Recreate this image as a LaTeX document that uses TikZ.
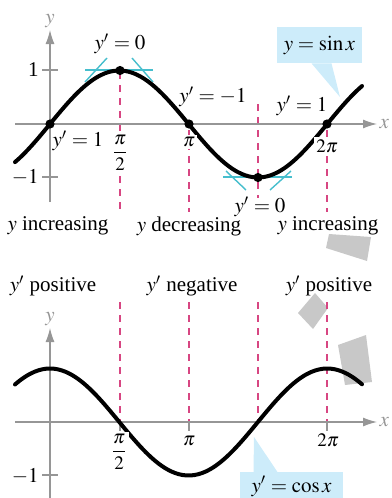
\documentclass[tikz,border=0pt]{standalone}
\usepackage{mathptmx}
\usepackage[no-math]{fontspec}
\setmainfont{Liberation Serif}
\usetikzlibrary{positioning, calc, arrows.meta}
\definecolor{guide}{RGB}{215,70,130}
\definecolor{tangent}{RGB}{70,190,205}
\definecolor{callout}{RGB}{205,236,250}
\definecolor{axisgray}{RGB}{150,150,150}
\definecolor{blot}{RGB}{200,200,200}
\tikzset{
  axis/.style={axisgray, line width=0.6pt, -{Latex[length=7pt,width=4.5pt]}},
  curve/.style={line width=2pt, line cap=round},
  guideline/.style={guide, line width=0.7pt, dash pattern=on 3.5pt off 3pt},
  tanline/.style={tangent, line width=0.7pt},
  tick/.style={axisgray, line width=0.6pt},
  dot/.style={circle, fill=black, inner sep=0pt, minimum size=4.6pt},
  lbl/.style={font=\fontsize{10.5}{12}\selectfont, inner sep=1pt},
  ticklbl/.style={font=\fontsize{9.5}{10}\selectfont, inner sep=1pt, fill=white},
  callbox/.style={fill=callout, inner sep=0pt, font=\fontsize{10.5}{12}\selectfont}
}

\begin{document}
\begin{tikzpicture}[x=0.5pt, y=-0.5pt]
  \useasboundingbox (0,0) rectangle (391,498);

  % grey blots
  \fill[blot] (329,234) -- (371,237) -- (367,261) -- (326,248) -- cycle;
  \fill[blot] (315,293) -- (328,308) -- (313,329) -- (298,313) -- cycle;
  \fill[blot] (338,345) -- (366,335) -- (372,382) -- (345,385) -- cycle;

  % Top: y = sin x
  \node[callbox, minimum width=42.5pt, minimum height=18pt] (sinbox) at (319.5,45) {$y = \sin x$};
  \coordinate (sintip) at (340,97);
  \fill[callout] ([xshift=-4pt]sinbox.south) -- (sintip) -- ([xshift=6pt]sinbox.south) -- cycle;

  \draw[guideline] (120,72) -- (120,212);
  \draw[guideline] (189,130) -- (189,212);
  \draw[guideline] (258,104) -- (258,198);
  \draw[guideline] (327,130) -- (327,212);

  \draw[axis] (15,124) -- (377,124) node[lbl, right] (xtop) {$x$};
  \draw[axis] (50,202) -- (50,30) node[lbl, above] (ytop) {$y$};
  \draw[tick] (42,70) -- (58,70);
  \draw[tick] (42,177) -- (58,177);
  \node[lbl, left] (onetop) at (41,70) {1};
  \node[lbl, left] (mintop) at (41,177) {$-1$};

  % tangent lines at the peak and the trough
  \draw[tanline] (85,70) -- (153,70);
  \draw[tanline] (85,82) -- (107,58);
  \draw[tanline] (132,58) -- (153,82);
  \draw[tanline] (223,177) -- (292,177);
  \draw[tanline] (226,171) -- (246,190);
  \draw[tanline] (270,190) -- (291,171);

  \draw[curve] plot[domain=15:362, samples=90, smooth] (\x, {124-53.5*sin(deg((\x-50)/44.12))});
  \foreach \px/\py in {50/124, 120/70.5, 189/124, 258/177.5, 327/124}
    \node[dot] at (\px,\py) {};

  \node[ticklbl] (halfpitop) at (120,153) {$\displaystyle\frac{\pi}{2}$};
  \node[ticklbl] (pitop) at (189,142) {$\pi$};
  \node[ticklbl] (twopitop) at (327,146) {$2\pi$};

  \node[lbl] (slopepeak) at (120,44) {$y' = 0$};
  \node[lbl] (slopezero) at (78,141) {$y' = 1$};
  \node[lbl] (slopepi) at (213,97) {$y' = -1$};
  \node[lbl] (slopetwopi) at (302,106) {$y' = 1$};
  \node[lbl] (slopetrough) at (260,207) {$y' = 0$};

  \node[lbl] (incleft) at (58,226) {$y$ increasing};
  \node[lbl] (dec) at (189,226) {$y$ decreasing};
  \node[lbl] (incright) at (328,226) {$y$ increasing};

  % Bottom: y' = cos x
  \node[lbl] (posleft) at (53,286) {$y'$ positive};
  \node[lbl] (neg) at (192,286) {$y'$ negative};
  \node[lbl] (posright) at (329,286) {$y'$ positive};

  \node[callbox, minimum width=51.5pt, minimum height=14pt, anchor=north] (cosbox) at (291.5,472) {$y' = \cos x$};
  \coordinate (costip) at (254,437);
  \fill[callout] ([xshift=-19pt]cosbox.north) -- (costip) -- ([xshift=-7pt]cosbox.north) -- cycle;

  \foreach \gx in {120, 189, 258, 327}
    \draw[guideline] (\gx,302) -- (\gx,422);

  \draw[axis] (15,422) -- (377,422) node[lbl, right] (xbot) {$x$};
  \draw[axis] (50,498) -- (50,328) node[lbl, above] (ybot) {$y$};
  \draw[tick] (42,475) -- (58,475);
  \node[lbl, left] (minbot) at (41,476) {$-1$};
  \foreach \gx in {120, 189, 327}
    \draw[tick] (\gx,422) -- (\gx,431);

  \draw[curve] plot[domain=15:362, samples=90, smooth] (\x, {422-53.5*cos(deg((\x-50)/44.12))});

  \node[ticklbl] (halfpibot) at (119,452) {$\displaystyle\frac{\pi}{2}$};
  \node[ticklbl] (pibot) at (189,441) {$\pi$};
  \node[ticklbl] (twopibot) at (328,440) {$2\pi$};
\end{tikzpicture}
\end{document}
